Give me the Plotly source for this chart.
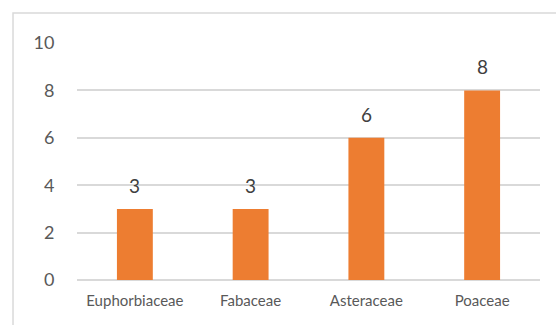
import plotly.graph_objects as go

families = ["Euphorbiaceae", "Fabaceae", "Asteraceae", "Poaceae"]
counts = [3, 3, 6, 8]
y_ticks = [0, 2, 4, 6, 8, 10]

bar_color = "#ED7D31"
grid_color = "#D9D9D9"
text_color = "#595959"
font_family = "Lato, 'Open Sans', sans-serif"

fig = go.Figure(
    go.Bar(
        x=families,
        y=counts,
        marker=dict(color=bar_color, line=dict(width=0)),
        width=0.31,
        hoverinfo="skip",
    )
)

# value labels above each bar
for fam, val in zip(families, counts):
    fig.add_annotation(
        x=fam, y=val, text=str(val), showarrow=False,
        yanchor="bottom", yshift=10,
        font=dict(family=font_family, size=19, color="#404040"),
    )

# outer chart frame
fig.add_shape(
    type="rect", xref="paper", yref="paper",
    x0=-0.1382, x1=1.2, y0=-0.4, y1=1.1266,
    line=dict(color=grid_color, width=1.5), layer="below",
)

fig.update_layout(
    width=556, height=325,
    margin=dict(l=77, r=16, t=43, b=45),
    paper_bgcolor="white", plot_bgcolor="white",
    showlegend=False,
    font=dict(family=font_family, color=text_color),
    xaxis=dict(
        showgrid=False, showline=False, zeroline=False,
        ticks="outside", ticklen=7, tickcolor="rgba(0,0,0,0)",
        tickfont=dict(size=15, color=text_color),
        fixedrange=True,
    ),
    yaxis=dict(
        range=[0, 10], tickvals=y_ticks,
        showgrid=True, gridcolor=grid_color, gridwidth=1.5,
        zeroline=True, zerolinecolor=grid_color, zerolinewidth=1.5,
        showline=False,
        ticks="outside", ticklen=18, tickcolor="rgba(0,0,0,0)",
        tickfont=dict(size=18, color=text_color),
        fixedrange=True,
    ),
)

fig.write_html("out.html")
